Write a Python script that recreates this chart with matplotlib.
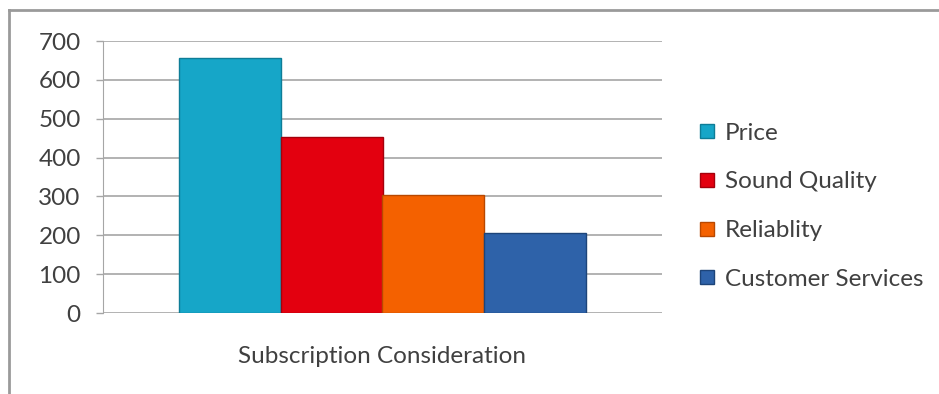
#!/usr/bin/env python3
"""Bar chart: subscription consideration by factor."""

import matplotlib
matplotlib.use("Agg")
import matplotlib.pyplot as plt
from matplotlib.lines import Line2D

categories = ["Price", "Sound Quality", "Reliablity", "Customer Services"]
values = [655, 453, 303, 205]
colors = ["#16a6c8", "#e3000f", "#f46100", "#2e62a9"]
edges = ["#0e7d97", "#a5000b", "#b84800", "#1d4479"]
yticks = [0, 100, 200, 300, 400, 500, 600, 700]

plt.rcParams["font.family"] = ["Lato", "DejaVu Sans"]

fig = plt.figure(figsize=(9.39, 3.94), dpi=100)
ax = fig.add_axes([103 / 939, 81 / 394, 559 / 939, 272 / 394])

for i, (v, c, e) in enumerate(zip(values, colors, edges)):
    ax.bar(i, v, width=1.0, color=c, edgecolor=e, linewidth=1.0, label=categories[i], zorder=3)

ax.set_xlim(-1.246, 4.246)
ax.set_ylim(0, 700)
ax.set_yticks(yticks)
ax.grid(axis="y", color="#a6a6a6", linewidth=1.2, zorder=0)
ax.set_xticks([])
ax.set_xlabel("Subscription Consideration", fontsize=17.5, color="#404040", labelpad=24)
ax.tick_params(axis="y", labelsize=17.5, labelcolor="#404040", color="#a6a6a6", length=5, width=1, pad=11)
for side in ["top", "right", "bottom"]:
    ax.spines[side].set_visible(False)
ax.spines["left"].set_color("#a6a6a6")

handles = [Line2D([0], [0], marker="s", linestyle="none", markersize=10,
                  markerfacecolor=c, markeredgecolor=e) for c, e in zip(colors, edges)]
fig.legend(handles, categories, loc="upper left", bbox_to_anchor=(686 / 939, 1 - 113 / 394),
           frameon=False, fontsize=17.5, labelcolor="#404040", handletextpad=0.3,
           labelspacing=1.14, handlelength=0.9, borderaxespad=0)

# outer chart border (left and top only visible)
fig.add_artist(Line2D([9 / 939, 9 / 939], [0, 1 - 10 / 394], color="#9a9a9a", linewidth=2))
fig.add_artist(Line2D([9 / 939, 1], [1 - 10 / 394, 1 - 10 / 394], color="#9a9a9a", linewidth=2))

fig.savefig("out.png", dpi=100)
